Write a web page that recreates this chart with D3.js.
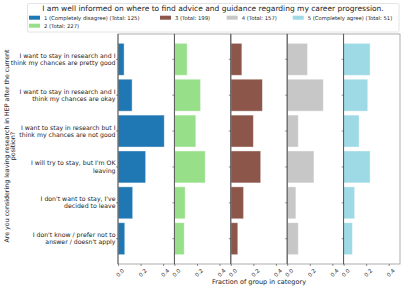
<!DOCTYPE html>
<html>
<head>
<meta charset="utf-8">
<script src="https://cdn.jsdelivr.net/npm/d3@7"></script>
<style>
  body { margin: 0; background: #fff; }
  text { font-family: "DejaVu Sans", sans-serif; fill: #222; }
</style>
</head>
<body>
<div id="chart"></div>
<script>
// answer categories (rows), top to bottom
var categories = [
  ["I want to stay in research and I", "think my chances are pretty good"],
  ["I want to stay in research and I", "think my chances are okay"],
  ["I want to stay in research but I", "think my chances are not good"],
  ["I will try to stay, but I'm OK", "leaving"],
  ["I don't want to stay, I've", "decided to leave"],
  ["I don't know / prefer not to", "answer / doesn't apply"]
];
// groups (panels)
var groups = ["1 (Completely disagree) (Total: 125)", "2 (Total: 227)", "3 (Total: 199)",
              "4 (Total: 157)", "5 (Completely agree) (Total: 51)"];
var colors = ["#1f77b4", "#98df8a", "#8c564b", "#c7c7c7", "#9edae5"];
// fraction of group in each category
var frac1 = [0.054, 0.125, 0.41, 0.245, 0.13, 0.06];
var frac2 = [0.113, 0.232, 0.19, 0.273, 0.095, 0.087];
var frac3 = [0.098, 0.28, 0.2, 0.265, 0.113, 0.062];
var frac4 = [0.18, 0.32, 0.098, 0.237, 0.077, 0.098];
var frac5 = [0.235, 0.214, 0.137, 0.235, 0.098, 0.078];
var xTicks = [0, 0.2, 0.4];

var title = "I am well informed on where to find advice and guidance regarding my career progression.";
var yTitle = ["Are you considering leaving research in HEP after the current", "position?"];
var xTitle = "Fraction of group in category";

var w = 407, h = 291;
var svg = d3.select("#chart").append("svg").attr("width", w).attr("height", h);

var series = [frac1, frac2, frac3, frac4, frac5];
// plot area (avoid the name "top", it is window.top)
var pLeft = 118, pRight = 400, pTop = 34, pBottom = 264;
var pw = (pRight - pLeft) / series.length;

var y = d3.scaleBand().domain(d3.range(categories.length)).range([pTop, pBottom])
  .paddingInner(0.11).paddingOuter(0.26);

series.forEach(function(vals, g) {
  var x0 = pLeft + g * pw;
  var x = d3.scaleLinear().domain([0, 0.5]).range([x0, x0 + pw]);
  var p = svg.append("g");
  p.selectAll("rect").data(vals).enter().append("rect")
    .attr("x", x(0))
    .attr("y", function(d, i) { return y(i); })
    .attr("width", function(d) { return x(d) - x(0); })
    .attr("height", y.bandwidth())
    .attr("fill", colors[g])
    .attr("stroke", "#fff").attr("stroke-opacity", 0.5).attr("stroke-width", 0.8);
  // frame
  p.append("rect").attr("x", x0).attr("y", pTop).attr("width", pw).attr("height", pBottom - pTop)
    .attr("fill", "none").attr("stroke", "#999").attr("stroke-width", 0.8);
  p.append("line").attr("x1", x(0)).attr("x2", x(0)).attr("y1", pTop).attr("y2", pBottom)
    .attr("stroke", "#444").attr("stroke-width", 0.8);
  // y ticks
  p.selectAll("line.yt").data(categories).enter().append("line").attr("class", "yt")
    .attr("x1", x0 - 2).attr("x2", x0)
    .attr("y1", function(d, i) { return y(i) + y.bandwidth() / 2; })
    .attr("y2", function(d, i) { return y(i) + y.bandwidth() / 2; })
    .attr("stroke", "#444").attr("stroke-width", 0.6);
  // x axis
  var ax = p.append("g").attr("transform", "translate(0," + pBottom + ")")
    .call(d3.axisBottom(x).tickValues(xTicks).tickFormat(d3.format(".1f")).tickSize(2).tickPadding(1));
  ax.select(".domain").remove();
  ax.selectAll("line").attr("stroke", "#444").attr("stroke-width", 0.6);
  ax.selectAll("text")
    .style("font-size", "5.5px").style("font-family", "DejaVu Sans")
    .attr("text-anchor", "end").attr("dy", "0.5em")
    .attr("transform", "translate(2,3) rotate(-45)");
});

// category labels
var cl = svg.append("g");
categories.forEach(function(lines, i) {
  var cy = y(i) + y.bandwidth() / 2;
  var t = cl.append("text").attr("x", pLeft - 2.5).attr("y", cy - 3.5)
    .attr("text-anchor", "end").style("font-size", "6.2px");
  lines.forEach(function(s, k) {
    t.append("tspan").attr("x", pLeft - 2.5).attr("dy", k === 0 ? "0.32em" : "1.15em").text(s);
  });
});

// y title
var yt = svg.append("text").attr("transform", "translate(6.5,146) rotate(-90)")
  .attr("text-anchor", "middle").style("font-size", "6.3px");
yTitle.forEach(function(s, k) {
  yt.append("tspan").attr("x", 0).attr("dy", k === 0 ? "0.35em" : "1.05em").text(s);
});

// x title
svg.append("text").attr("x", (pLeft + pRight) / 2).attr("y", 284)
  .attr("text-anchor", "middle").style("font-size", "6.5px").text(xTitle);

// legend
var lg = svg.append("g");
lg.append("rect").attr("x", 27.5).attr("y", 3.5).attr("width", 371.5).attr("height", 28.5)
  .attr("fill", "#fff").attr("stroke", "#ddd").attr("stroke-width", 0.8).attr("rx", 1.5);
lg.append("text").attr("x", 213).attr("y", 11).attr("text-anchor", "middle")
  .style("font-size", "7.5px").text(title);
var legPos = [[29, 17.7], [29, 25.7], [160, 17.7], [226.7, 17.7], [292.7, 17.7]];
groups.forEach(function(gn, g) {
  var pos = legPos[g];
  lg.append("rect").attr("x", pos[0]).attr("y", pos[1] - 2).attr("width", 11).attr("height", 4)
    .attr("fill", colors[g]);
  lg.append("text").attr("x", pos[0] + 15).attr("y", pos[1]).attr("dy", "0.35em")
    .style("font-size", "5.3px").text(gn);
});
</script>
</body>
</html>
